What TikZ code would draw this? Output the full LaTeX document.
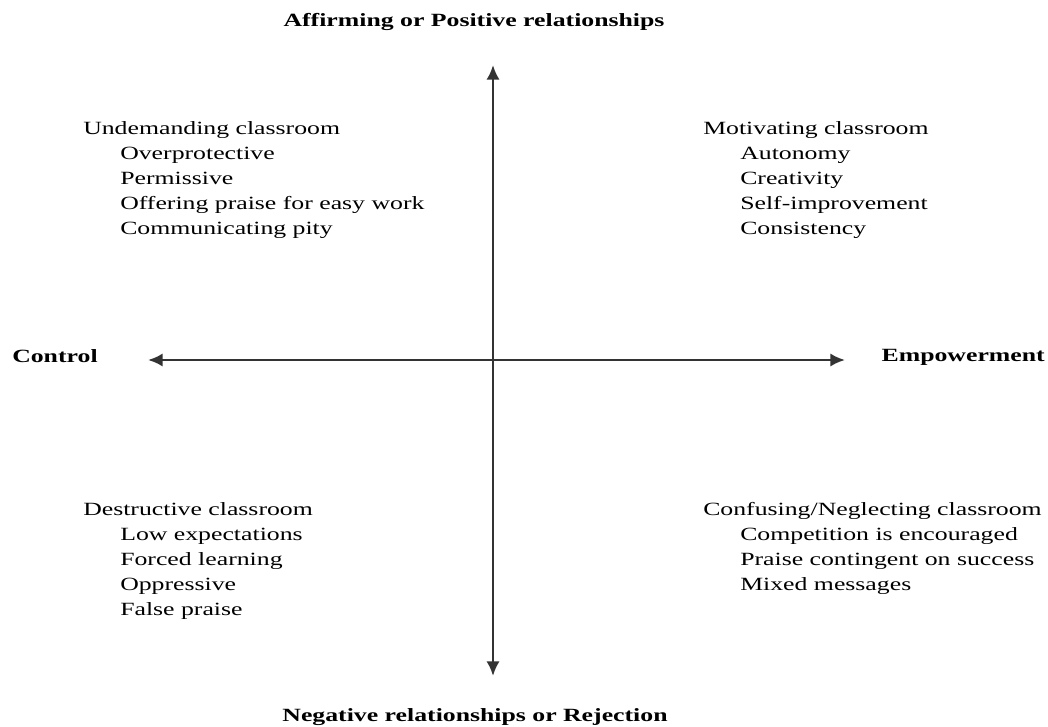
\documentclass[tikz,border=0pt]{standalone}
\usepackage{fontspec}
\setmainfont{Liberation Serif}[FakeStretch=1.38]
\usetikzlibrary{arrows.meta}

\tikzset{
  axis/.style={draw=black!80, line width=2pt,
    {Latex[length=11pt,width=10pt]}-{Latex[length=11pt,width=10pt]}},
  quadrant/.style={anchor=north west, inner sep=0pt, align=left,
    font=\fontsize{14}{18.75}\selectfont, text=black},
  heading/.style={inner sep=0pt, font=\fontsize{14}{16}\selectfont\bfseries, text=black}
}
\newcommand{\ind}{\hspace*{27.75pt}}

\begin{document}
\begin{tikzpicture}[x=0.75pt,y=-0.75pt]
            \useasboundingbox[fill=white] (0,0) rectangle (1048,727);

            % Ejes
            \coordinate (o) at (493,360);
            \coordinate (top) at (493,65);
            \coordinate (bottom) at (493,676);
            \coordinate (left) at (148,360);
            \coordinate (right) at (845,360);
            \draw[axis] (bottom) -- (top);
            \draw[axis] (left) -- (right);

            % Extremos
            \node[heading] (affirm) at (474,22) {Affirming or Positive relationships};
            \node[heading] (negative) at (475,717) {Negative relationships or Rejection};
            \node[heading, anchor=west] (control) at (12,356) {Control};
            \node[heading, anchor=east] (empower) at (1045,357) {Empowerment};

            % Cuadrantes
            \node[quadrant] (undemanding) at (83,121) {Undemanding classroom\\
              \ind Overprotective\\
              \ind Permissive\\
              \ind Offering praise for easy work\\
              \ind Communicating pity};
            \node[quadrant] (motivating) at (703,121) {Motivating classroom\\
              \ind Autonomy\\
              \ind Creativity\\
              \ind Self-improvement\\
              \ind Consistency};
            \node[quadrant] (destructive) at (83,502) {Destructive classroom\\
              \ind Low expectations\\
              \ind Forced learning\\
              \ind Oppressive\\
              \ind False praise};
            \node[quadrant] (confusing) at (703,502) {Confusing/Neglecting classroom\\
              \ind Competition is encouraged\\
              \ind Praise contingent on success\\
              \ind Mixed messages};
        \end{tikzpicture}
\end{document}
